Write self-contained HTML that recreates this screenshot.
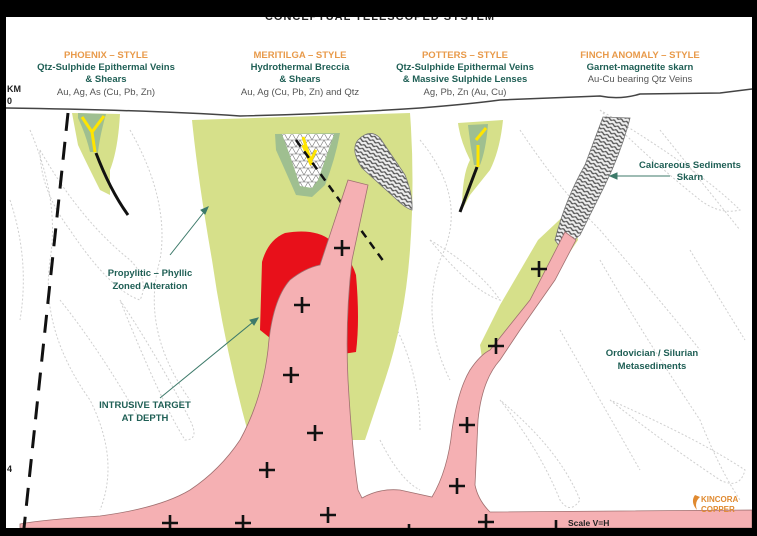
<!DOCTYPE html>
<html><head><meta charset="utf-8"><style>
html,body{margin:0;padding:0;background:#000;}
svg{display:block;}
text{font-family:"Liberation Sans",sans-serif;}
</style></head><body>
<svg width="757" height="536" viewBox="0 0 757 536" xmlns="http://www.w3.org/2000/svg">
<defs>
<pattern id="wave" width="6" height="4" patternUnits="userSpaceOnUse" patternTransform="rotate(25)">
<rect width="6" height="4" fill="#eee"/>
<path d="M0 2 Q1.5 0.5 3 2 T6 2" stroke="#555" stroke-width="1.3" fill="none"/>
</pattern>
<pattern id="tri" width="8" height="7" patternUnits="userSpaceOnUse">
<rect width="8" height="7" fill="#fff"/>
<path d="M0 7 L4 0 L8 7 Z M0 0 H8" stroke="#777" stroke-width="0.6" fill="none"/>
</pattern>
</defs>
<rect x="0" y="0" width="757" height="536" fill="#000"/>
<rect x="6" y="17" width="746" height="511" fill="#fff"/>
<text x="380" y="20" font-size="11" font-weight="bold" fill="#222" text-anchor="middle" letter-spacing="1">CONCEPTUAL TELESCOPED SYSTEM</text>
<rect x="0" y="0" width="757" height="17" fill="#000"/>

<!-- background dotted folds -->
<g stroke="#cfcfcf" stroke-width="1" stroke-dasharray="2,2" fill="none">
<path d="M30 130 Q60 200 50 260 Q40 330 90 400 Q120 460 100 510"/>
<path d="M130 130 Q170 200 160 260 Q140 330 190 400"/>
<path d="M420 140 Q470 200 440 260 Q420 320 450 380"/>
<path d="M520 130 Q560 190 600 230 Q660 300 700 350"/>
<path d="M600 260 Q640 330 700 420 Q720 470 740 500"/>
<path d="M560 330 Q600 400 640 470"/>
<path d="M380 300 Q420 360 420 430"/>
<path d="M660 130 Q700 180 740 230"/>
<path d="M60 300 Q100 350 140 420"/>
<path d="M40 150 Q80 220 130 260 Q150 280 140 300 Q110 290 70 230 Q40 190 40 150"/>
<path d="M120 300 Q160 360 190 420 Q200 440 185 440 Q160 400 120 300"/>
<path d="M430 240 Q470 290 500 300 Q480 270 430 240"/>
<path d="M600 110 Q650 160 700 200 Q720 215 740 210 Q700 170 600 110"/>
<path d="M610 400 Q660 440 720 480 Q740 490 745 470 Q700 440 610 400"/>
<path d="M500 400 Q540 450 560 500 Q570 515 580 500 Q560 450 500 400"/>
<path d="M690 250 Q720 300 745 340"/>
<path d="M380 440 Q400 480 420 490"/>
<path d="M10 200 Q30 260 20 320"/>
</g>

<!-- surface -->
<path d="M6 108 Q150 110 240 116 Q330 114 420 108 Q470 104 500 100 L600 96 Q620 100 640 94 L720 93 L752 89" stroke="#444" stroke-width="1.5" fill="none"/>

<!-- main alteration zone -->
<path d="M192 120 L410 113 Q415 180 410 250 Q405 320 385 380 L365 440 L250 440 Q225 350 212 260 Q198 180 192 120 Z" fill="#d6e08a"/>
<!-- phoenix -->
<path d="M72 113 L120 114 Q118 150 110 170 L110 195 L100 190 Q85 160 78 145 Z" fill="#d6e08a"/>
<path d="M78 113 L106 114 Q100 135 98 152 L90 152 Q86 135 78 118 Z" fill="#9fbf90"/>
<path d="M96 153 Q110 190 128 215" stroke="#111" stroke-width="3" fill="none"/>
<path d="M82 117 L92 132 L104 116 M92 132 L95 152" stroke="#ffe500" stroke-width="3" fill="none"/>
<!-- potters -->
<path d="M458 123 L503 120 Q500 150 490 170 L470 195 L462 210 Q462 175 470 160 Q460 140 458 123 Z" fill="#d6e08a"/>
<path d="M468 125 L488 124 Q486 150 480 165 L474 165 Q470 145 468 125 Z" fill="#9fbf90"/>
<path d="M477 167 L460 212" stroke="#111" stroke-width="3" fill="none"/>
<path d="M476 140 L486 128 M478 145 L478 167" stroke="#ffe500" stroke-width="3" fill="none"/>
<!-- meritilga breccia -->
<path d="M275 134 L340 133 Q335 160 325 185 L312 197 L296 195 Q285 170 276 150 Z" fill="#9fbf90"/>
<path d="M282 134 L334 134 Q325 160 318 180 L312 188 L300 186 Q292 160 282 134 Z" fill="url(#tri)"/>
<path d="M303 137 L312 165 M303 145 L310 162 L316 150" stroke="#ffe500" stroke-width="3" fill="none"/>
<path d="M296 140 L384 262" stroke="#111" stroke-width="2.5" stroke-dasharray="8,6" fill="none"/>
<!-- meritilga skarn -->
<path d="M358 140 Q370 128 380 138 L405 175 Q413 195 412 210 Q405 208 395 198 L362 168 Q350 150 358 140 Z" fill="url(#wave)" stroke="#777" stroke-width="0.8"/>

<!-- finch -->
<path d="M538 240 L572 208 L578 240 L550 282 L520 320 L482 358 L480 345 L500 305 Z" fill="#d6e08a"/>
<path d="M603 117 L630 118 Q622 150 605 185 L580 235 L562 250 L555 240 Q565 200 585 165 Z" fill="url(#wave)" stroke="#777" stroke-width="0.8"/>

<!-- red target -->
<path d="M262 262 Q268 240 285 233 Q315 228 330 240 Q350 255 356 275 Q360 320 356 352 L336 355 L300 340 L270 338 L260 330 Z" fill="#e8101a"/>

<!-- pink intrusion -->
<path d="M20 524 Q40 520 100 516 Q160 508 190 490 Q220 470 240 440 Q262 400 268 350 Q272 300 290 280 Q305 268 320 265 L348 180 L368 185 L352 260 Q345 320 348 380 Q352 450 358 490 L362 498 Q380 488 400 490 L432 497 Q448 470 452 430 Q458 390 470 370 Q480 355 490 350 L530 300 L565 232 L576 240 L555 280 L520 330 L500 360 Q482 380 478 420 L475 485 Q478 500 490 512 L752 510 L752 528 L20 528 Z" fill="#f5b0b3" stroke="#a07070" stroke-width="0.8"/>

<!-- plus signs -->
<g stroke="#111" stroke-width="2.6">
<path d="M334 248 h16 M342 240 v16"/>
<path d="M294 305 h16 M302 297 v16"/>
<path d="M283 375 h16 M291 367 v16"/>
<path d="M307 433 h16 M315 425 v16"/>
<path d="M259 470 h16 M267 462 v16"/>
<path d="M320 515 h16 M328 507 v16"/>
<path d="M162 523 h16 M170 515 v14"/>
<path d="M235 523 h16 M243 515 v14"/>
<path d="M531 269 h16 M539 261 v16"/>
<path d="M488 346 h16 M496 338 v16"/>
<path d="M459 425 h16 M467 417 v16"/>
<path d="M449 486 h16 M457 478 v16"/>
<path d="M478 522 h16 M486 514 v14"/>
<path d="M409 524 v6 M556 520 v8"/>
</g>

<!-- fault -->
<path d="M68 113 L24 528" stroke="#111" stroke-width="3" stroke-dasharray="18,11" fill="none"/>

<!-- arrows -->
<g stroke="#3d7a6a" stroke-width="1" fill="#3d7a6a">
<path d="M170 255 L208 207" fill="none"/><path d="M208 207 L201 210 L205 214 Z"/>
<path d="M160 398 L258 318" fill="none"/><path d="M258 318 L250 320 L254 325 Z"/>
<path d="M670 176 L612 176" fill="none"/><path d="M610 176 L617 173 L617 179 Z"/>
</g>

<!-- headings -->
<g font-size="9.5" font-weight="bold" text-anchor="middle">
<text x="106" y="58" fill="#e89a4a">PHOENIX – STYLE</text>
<text x="106" y="70" fill="#1f5f55">Qtz-Sulphide Epithermal Veins</text>
<text x="106" y="82" fill="#1f5f55">&amp; Shears</text>
<text x="106" y="95" fill="#555" font-weight="normal">Au, Ag, As (Cu, Pb, Zn)</text>
<text x="300" y="58" fill="#e89a4a">MERITILGA – STYLE</text>
<text x="300" y="70" fill="#1f5f55">Hydrothermal Breccia</text>
<text x="300" y="82" fill="#1f5f55">&amp; Shears</text>
<text x="300" y="95" fill="#555" font-weight="normal">Au, Ag (Cu, Pb, Zn) and Qtz</text>
<text x="465" y="58" fill="#e89a4a">POTTERS – STYLE</text>
<text x="465" y="70" fill="#1f5f55">Qtz-Sulphide Epithermal Veins</text>
<text x="465" y="82" fill="#1f5f55">&amp; Massive Sulphide Lenses</text>
<text x="465" y="95" fill="#555" font-weight="normal">Ag, Pb, Zn (Au, Cu)</text>
<text x="640" y="58" fill="#e89a4a">FINCH ANOMALY – STYLE</text>
<text x="640" y="70" fill="#1f5f55">Garnet-magnetite skarn</text>
<text x="640" y="82" fill="#555" font-weight="normal">Au-Cu bearing Qtz Veins</text>
</g>
<g font-size="9.5" font-weight="bold" fill="#1f5f55" text-anchor="middle">
<text x="150" y="276">Propylitic – Phyllic</text>
<text x="150" y="289">Zoned Alteration</text>
<text x="145" y="408">INTRUSIVE TARGET</text>
<text x="145" y="421">AT DEPTH</text>
<text x="690" y="168">Calcareous Sediments</text>
<text x="690" y="180">Skarn</text>
<text x="652" y="356">Ordovician / Silurian</text>
<text x="652" y="369">Metasediments</text>
</g>
<text x="7" y="92" font-size="9" font-weight="bold" fill="#222">KM</text>
<text x="7" y="104" font-size="9" font-weight="bold" fill="#222">0</text>
<text x="7" y="472" font-size="9" font-weight="bold" fill="#222">4</text>
<text x="568" y="526" font-size="8.5" font-weight="bold" fill="#222">Scale V=H</text>
<path d="M695 495 Q690 502 697 510 Q694 502 700 497 Z" fill="#e08a30"/>
<text x="701" y="502" font-size="8" font-weight="bold" fill="#e08a30">KINCORA</text>
<text x="701" y="512" font-size="8" font-weight="bold" fill="#e08a30">COPPER</text>
<rect x="0" y="528" width="757" height="8" fill="#000"/>
<rect x="752" y="0" width="5" height="536" fill="#000"/>
</svg>
</body></html>
